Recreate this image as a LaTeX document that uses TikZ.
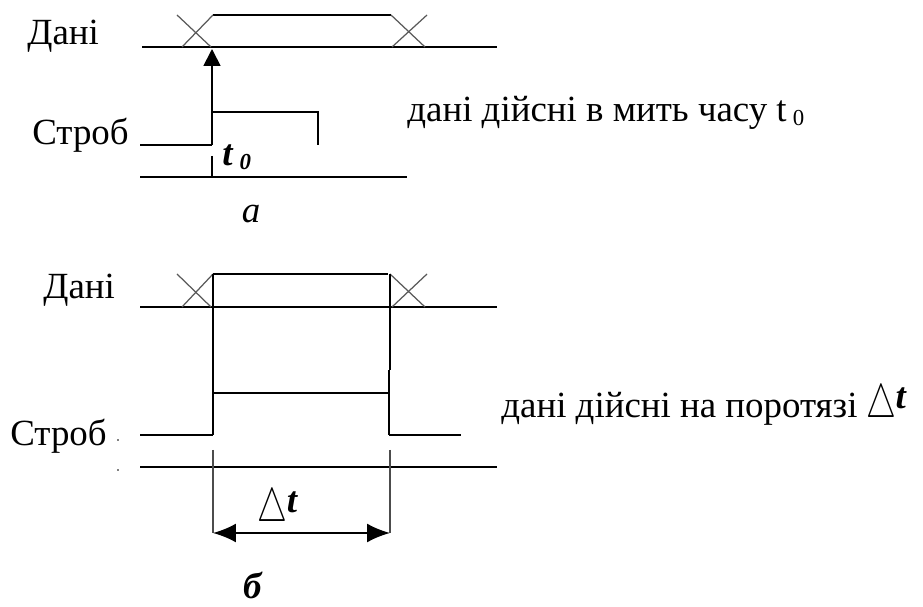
\documentclass[tikz,border=0pt]{standalone}
\usepackage{fontspec}
\setmainfont{Liberation Serif}
\usetikzlibrary{arrows.meta}
\newcommand{\dlt}{\scalebox{0.92}[1.3]{$\triangle$}\kern-0.5pt\raisebox{0.55ex}{\textbf{\textit{t}}}}

\begin{document}
\begin{tikzpicture}[
    x=0.02cm, y=-0.02cm,
    lbl/.style={font=\fontsize{21}{25}\selectfont, inner sep=0pt},
    sig/.style={line width=0.8pt},
    sigthick/.style={line width=1.7pt},
    cross/.style={line width=0.7pt, gray!70!black},
    ext/.style={line width=0.8pt, gray!60!black},
    arr/.style={-{Triangle[length=3.4mm, width=3.4mm]}, line width=1pt},
    dimarr/.style={{Latex[length=4.6mm, width=3.8mm]}-{Latex[length=4.6mm, width=3.8mm]}, line width=1pt},
]
\useasboundingbox (0,0) rectangle (923,607);

% Diagram a
\node[lbl, anchor=base west] (datA)   at (27,45)   {Дані};
\node[lbl, anchor=base west] (strobA) at (32,145)  {Строб};
\node[lbl, anchor=base west] (noteA)  at (407,122) {дані дійсні в мить часу t\,{\fontsize{13}{14}\selectfont\raisebox{-0.3ex}{0}}};
\node[lbl, anchor=base]      (capA)   at (251,223) {\textit{а}};
\node[lbl, anchor=base west] (t0)     at (222,166) {\textbf{\textit{t}}\,{\fontsize{13}{14}\selectfont\bfseries\itshape\raisebox{-0.3ex}{0}}};

\draw[sig] (142,47) -- (497,47);
\draw[sig] (213,15) -- (391,15);
\draw[cross] (177,15) -- (211,47);
\draw[cross] (182,47) -- (213,15);
\draw[cross] (391,15) -- (425,47);
\draw[cross] (392,47) -- (427,15);

\draw[sig] (140,145) -- (212,145);
\draw[arr] (212,145) -- (212,49);
\draw[sigthick] (212,112) -- (318,112);
\draw[sig] (318,111) -- (318,145);
\draw[sig] (212,156) -- (212,177);
\draw[sig] (140,177) -- (407,177);

% Diagram b
\node[lbl, anchor=base west] (datB)   at (43,299)  {Дані};
\node[lbl, anchor=base west] (strobB) at (10,446)  {Строб};
\node[lbl, anchor=base west] (noteB)  at (501,418) {дані дійсні на поротязі \dlt};
\node[lbl, anchor=base]      (capB)   at (253,599) {\textbf{\textit{б}}};
\node[lbl, anchor=base]      (dtB)    at (278,522) {\dlt};
\fill (118,440) circle (0.5pt) (118,470) circle (0.5pt);

\draw[sigthick] (140,307) -- (497,307);
\draw[sigthick] (213,274) -- (388,274);
\draw[cross] (177,274) -- (211,307);
\draw[cross] (182,307) -- (213,274);
\draw[cross] (390,274) -- (425,307);
\draw[cross] (392,307) -- (427,274);

\draw[sig] (213,274) -- (213,435);
\draw[sig] (390,274) -- (390,370);
\draw[sigthick] (389,370) -- (389,435);
\draw[sig] (140,435) -- (213,435);
\draw[sig] (213,393) -- (389,393);
\draw[sig] (389,435) -- (461,435);
\draw[sig] (140,467) -- (497,467);

\draw[ext] (213,450) -- (213,533);
\draw[ext] (390,450) -- (390,533);
\draw[dimarr] (213,533) -- (390,533);
\end{tikzpicture}
\end{document}
